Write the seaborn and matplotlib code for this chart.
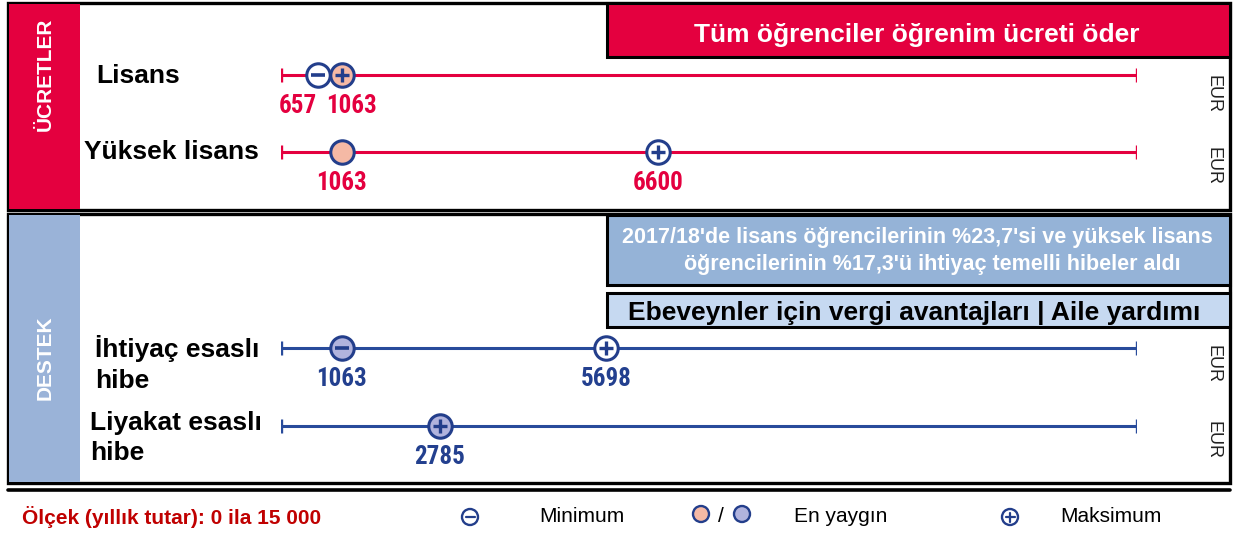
import matplotlib
matplotlib.use("Agg")
import matplotlib.pyplot as plt
import seaborn as sns
import pandas as pd
from matplotlib.patches import Rectangle, Circle
from matplotlib import font_manager

# ---------------- data ----------------
categories = ["Lisans", "Yüksek lisans", "İhtiyaç esaslı\nhibe", "Liyakat esaslı\nhibe"]
panel = ["fees", "fees", "support", "support"]
minimum = [657, None, 1063, None]
common = [1063, 1063, 1063, 2785]
maximum = [1063, 6600, 5698, 2785]
scale_min, scale_max = 0, 15000

title_fees = "Tüm öğrenciler öğrenim ücreti öder"
note_support = "2017/18'de lisans öğrencilerinin %23,7'si ve yüksek lisans\n     öğrencilerinin %17,3'ü ihtiyaç temelli hibeler aldı"
note_family = "Ebeveynler için vergi avantajları | Aile yardımı"
scale_text = "Ölçek (yıllık tutar): 0 ila 15 000"

# ---------------- style ----------------
sns.set_theme(style="white")
plt.rcParams["font.family"] = ["Liberation Sans", "DejaVu Sans"]

# condensed font for value labels if available
names = {f.name for f in font_manager.fontManager.ttflist}
cond_family = None
for cand in ["Liberation Sans Narrow", "DejaVu Sans Condensed", "Roboto Condensed", "Open Sans Condensed"]:
    if cand in names:
        cond_family = cand
        break

W, H = 1235, 538
RED = "#E4003F"
SIDE_BLUE = "#9AB3D8"
INFO_BLUE = "#95B3D7"
LIGHT_BLUE = "#C6D9F1"
PEACH = "#F5B9A5"
LAV = "#B1B3DD"
NAVY = "#233E8B"
BLUE_LINE = "#284B9B"

fig = plt.figure(figsize=(W / 100, H / 100), dpi=100)
bg = fig.add_axes([0, 0, 1, 1])
bg.set_xlim(0, W)
bg.set_ylim(H, 0)
bg.axis("off")

def box(x0, y0, x1, y1, fc, ec="black", lw=2.2, z=1):
    bg.add_patch(Rectangle((x0, y0), x1 - x0, y1 - y0, facecolor=fc, edgecolor=ec, linewidth=lw, zorder=z))

# panels
box(8, 3, 1230, 210, "white", lw=2.4, z=0)
box(9, 4, 80, 209, RED, ec="none", lw=0, z=1)
box(607, 3, 1230, 57, RED, lw=2.2, z=2)
bg.text(45, 74, "ÜCRETLER", rotation=90, color="white", fontsize=15, fontweight="bold", ha="center", va="center", zorder=3)
bg.text(917, 35, title_fees, color="white", fontsize=19, fontweight="bold", ha="center", va="center", zorder=3)

box(8, 214, 1230, 483, "white", lw=2.4, z=0)
box(9, 215, 80, 482, SIDE_BLUE, ec="none", lw=0, z=1)
box(607, 215, 1230, 285, INFO_BLUE, lw=2.2, z=2)
box(607, 293, 1230, 327, LIGHT_BLUE, lw=2.2, z=2)
bg.text(45, 358, "DESTEK", rotation=90, color="white", fontsize=15, fontweight="bold", ha="center", va="center", zorder=3)
bg.text(917, 251, note_support, color="white", fontsize=15.5, fontweight="bold", ha="center", va="center", linespacing=1.4, zorder=3)
bg.text(914, 313, note_family, color="black", fontsize=19, fontweight="bold", ha="center", va="center", zorder=3)

# row layout (pixel positions)
row_y = [75, 152, 348, 426]
label_xy = [(96, 76, "left"), (84, 152, "left"), (95, 364, "left"), (90, 438, "left")]
eur_y = [94, 166, 364, 440]
label_shift = {(0, 657): -21, (0, 1063): 10}

for i, cat in enumerate(categories):
    lx, ly, ha = label_xy[i]
    bg.text(lx, ly, cat, fontsize=19, fontweight="bold", color="black", ha=ha, va="center", linespacing=1.35, zorder=3)
    bg.text(1213, eur_y[i], "EUR", rotation=-90, fontsize=13, color="#222222", ha="center", va="center", zorder=3)

# data axes mapped to the scale line region
ax = fig.add_axes([281 / W, 0, (1137 - 281) / W, 1])
ax.set_xlim(scale_min, scale_max)
ax.set_ylim(H, 0)
ax.axis("off")
ax.patch.set_alpha(0)

px_per_unit = (1137 - 281) / (scale_max - scale_min)

points = []
for i in range(len(categories)):
    col = RED if panel[i] == "fees" else BLUE_LINE
    fill_common = PEACH if panel[i] == "fees" else LAV
    y = row_y[i]
    line_df = pd.DataFrame({"x": [scale_min, scale_max], "y": [y, y]})
    sns.lineplot(data=line_df, x="x", y="y", ax=ax, color=col, linewidth=2.2, zorder=2, sort=False)
    for xv in (scale_min, scale_max):
        ax.plot([xv, xv], [y - 7, y + 7], color=col, linewidth=2.4, zorder=2, solid_capstyle="butt")
    mn, cm, mx = minimum[i], common[i], maximum[i]
    if mn is not None and mn != cm:
        points.append(dict(x=mn, y=y, fill="white", sym="minus", row=i, col=col))
    sym = None
    if mx == cm:
        sym = "plus"
    elif mn is not None and mn == cm:
        sym = "minus"
    points.append(dict(x=cm, y=y, fill=fill_common, sym=sym, row=i, col=col))
    if mx != cm:
        points.append(dict(x=mx, y=y, fill="white", sym="plus", row=i, col=col))

pts = pd.DataFrame(points)
for fill, grp in pts.groupby("fill"):
    sns.scatterplot(data=grp, x="x", y="y", ax=ax, s=285, color=fill, edgecolor=NAVY, linewidth=2.2, zorder=4, legend=False)
plus = pts[pts["sym"] == "plus"]
minus = pts[pts["sym"] == "minus"]
ax.scatter(plus["x"], plus["y"], marker="+", s=95, color=NAVY, linewidths=2.4, zorder=5)
ax.scatter(minus["x"], minus["y"], marker="_", s=95, color=NAVY, linewidths=2.6, zorder=5)

val_family = [cond_family, "Liberation Sans", "DejaVu Sans"] if cond_family else ["Liberation Sans", "DejaVu Sans"]
for _, p in pts.iterrows():
    shift = label_shift.get((p["row"], p["x"]), 0) / px_per_unit
    ax.text(p["x"] + shift, p["y"] + 31, f"{int(p['x'])}", color=p["col"] if p["col"] == RED else "#23408F",
            fontsize=18 if cond_family else 16, fontweight="bold", ha="center", va="center", zorder=5,
            family=val_family)

# footer legend
bg.plot([8, 1230], [490, 490], color="black", linewidth=2.6)
bg.text(22, 517, scale_text, color="#C00000", fontsize=15, fontweight="bold", ha="left", va="center")

def icon(x, y, fill, sym=None, r=8):
    bg.add_patch(Circle((x, y), r, facecolor=fill, edgecolor=NAVY, linewidth=1.7, zorder=4))
    if sym == "minus":
        bg.plot([x - 4.5, x + 4.5], [y, y], color=NAVY, linewidth=1.6, zorder=5)
    if sym == "plus":
        bg.plot([x - 4.5, x + 4.5], [y, y], color=NAVY, linewidth=1.6, zorder=5)
        bg.plot([x, x], [y - 4.5, y + 4.5], color=NAVY, linewidth=1.6, zorder=5)

icon(470, 517, "white", "minus")
bg.text(539, 517, "Minimum", fontsize=15, color="black", ha="left", va="center")
icon(701, 514, PEACH)
bg.text(721, 516, "/", fontsize=15, color="black", ha="center", va="center")
icon(742, 514, LAV)
bg.text(794, 517, "En yaygın", fontsize=15, color="black", ha="left", va="center")
icon(1010, 517, "white", "plus")
bg.text(1060, 517, "Maksimum", fontsize=15, color="black", ha="left", va="center")

fig.savefig("out.png", dpi=100)
